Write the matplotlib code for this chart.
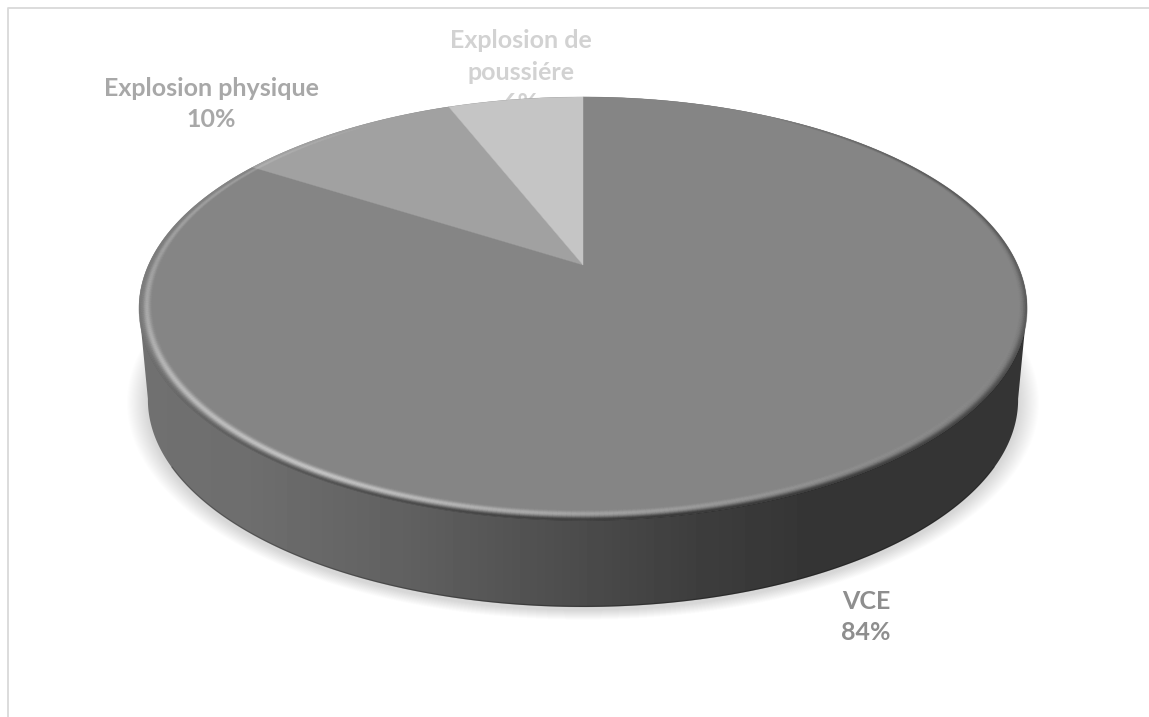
import numpy as np
import matplotlib
matplotlib.use('Agg')
import matplotlib.pyplot as plt
from matplotlib.patches import Polygon
from matplotlib.collections import LineCollection

categories = ['VCE', 'Explosion physique', 'Explosion de\npoussiére']
values = [84, 10, 6]
slice_colors = ['#858585', '#a1a1a1', '#c5c5c5']
label_colors = ['#8e8e8e', '#a8a8a8', '#d2d2d2']
label_pos = [(866, 617), (211, 104), (521, 72)]

# perspective of the disc, in pixels
cx, cy = 583, 265
A, B, K = 434.5, 202.6, 0.2057


def project(t, r=1.0, y0=cy, scale=1.0):
    # t clockwise from the top, r radius from 0 to 1
    u = r * np.sin(t)
    v = r * np.cos(t)
    d = 1 + K * v
    return cx + scale * A * u / d, y0 - scale * B * v / d


fig = plt.figure(figsize=(11.49, 7.17), dpi=100)
ax = fig.add_axes([0, 0, 1, 1])
ax.set_xlim(0, 1149)
ax.set_ylim(717, 0)
ax.axis('off')

# chart frame
ax.plot([7.5, 7.5, 1149], [717, 7.5, 7.5], color='#d9d9d9', lw=1.3, zorder=1)

# labels sit under the pie, the 6% is partly hidden
for name, val, col, (x, y) in zip(categories, values, label_colors, label_pos):
    ax.text(x, y, f'{name}\n{val}%', color=col, ha='center', va='center',
            family='Lato', fontweight='bold', fontsize=18, linespacing=1.47, zorder=2)

ts = np.linspace(0, 2 * np.pi, 720)

# soft shadow under the disc
lx, ly = project(ts, y0=357, scale=0.98)
n_shadow = 20
for i in range(n_shadow):
    grow = 1 + (n_shadow - i) * 0.0024
    px = cx + (lx - cx) * grow
    py = 400 + (ly - 400) * grow + 3
    ax.fill(px, py, color='black', alpha=0.008, lw=0, zorder=3)

# side of the disc: back half of the top outline joined to the front half of the lower one
tx, ty = project(ts, y0=cy)
i_r, i_l = np.argmax(tx), np.argmin(tx)
j_r, j_l = np.argmax(lx), np.argmin(lx)
hull_pts = np.vstack([np.column_stack([lx[j_r:j_l + 1], ly[j_r:j_l + 1]]),
                      np.column_stack([tx[i_l:], ty[i_l:]]),
                      np.column_stack([tx[:i_r + 1], ty[:i_r + 1]])])
hull = Polygon(hull_pts, closed=True, fc='none', ec='none')
ax.add_patch(hull)
stops_x = [139, 250, 400, 550, 700, 800, 1027]
stops_g = [0.44, 0.43, 0.38, 0.31, 0.24, 0.21, 0.21]
grad = np.interp(np.arange(139, 1028), stops_x, stops_g)[None, :]
side = ax.imshow(grad, extent=(139, 1028, 620, 90), cmap='gray', vmin=0, vmax=1,
                 aspect='auto', zorder=4)
ax.set_xlim(0, 1149)
ax.set_ylim(717, 0)
side.set_clip_path(hull)

# top of the disc, one polygon per slice
start = 0.0
total = sum(values)
for val, col in zip(values, slice_colors):
    end = start + val / total * 2 * np.pi
    t = np.linspace(start, end, 300)
    x, y = project(t)
    ax.add_patch(Polygon(np.column_stack([np.r_[cx, x], np.r_[cy, y]]), closed=True,
                         fc=col, ec=col, lw=0.3, zorder=5))
    start = end

# bevel on the rim: dark fade at the very edge, a thin highlight just inside it
arc = np.linspace(np.radians(30), np.radians(330), 600)
dark = np.interp(arc, np.radians([30, 60, 90, 125, 170, 220, 260, 295]),
                 [0.0, 0.07, 0.12, 0.24, 0.28, 0.14, 0.03, 0.0])
light = np.interp(arc, np.radians([100, 150, 180, 210, 240, 270, 300, 330]),
                  [0.0, 0.04, 0.11, 0.26, 0.24, 0.10, 0.05, 0.0])
n_rings = 26
for i in range(n_rings):
    f = i / (n_rings - 1)
    x, y = project(arc, r=1 - 0.034 * f, y0=cy - 1.5 * f)
    pts = np.column_stack([x, y])
    segs = np.stack([pts[:-1], pts[1:]], axis=1)
    a_dark = dark[:-1] * np.exp(-(f / 0.24) ** 2)
    a_light = light[:-1] * np.exp(-((f - 0.5) / 0.2) ** 2)
    for shade, alpha in ((0, a_dark), (1, a_light)):
        cols = np.full((len(segs), 4), float(shade))
        cols[:, 3] = alpha
        rim = LineCollection(segs, colors=cols, lw=1.0, zorder=6, capstyle='butt')
        rim.set_snap(False)
        ax.add_collection(rim)

# thin darker line on the lower edge
edge_t = np.radians(np.linspace(120, 240, 200))
ex, ey = project(edge_t, y0=357, scale=0.98)
ax.plot(ex, ey - 0.5, color='black', alpha=0.25, lw=1.0, zorder=6)

fig.savefig('out.png', dpi=100, facecolor='white')
